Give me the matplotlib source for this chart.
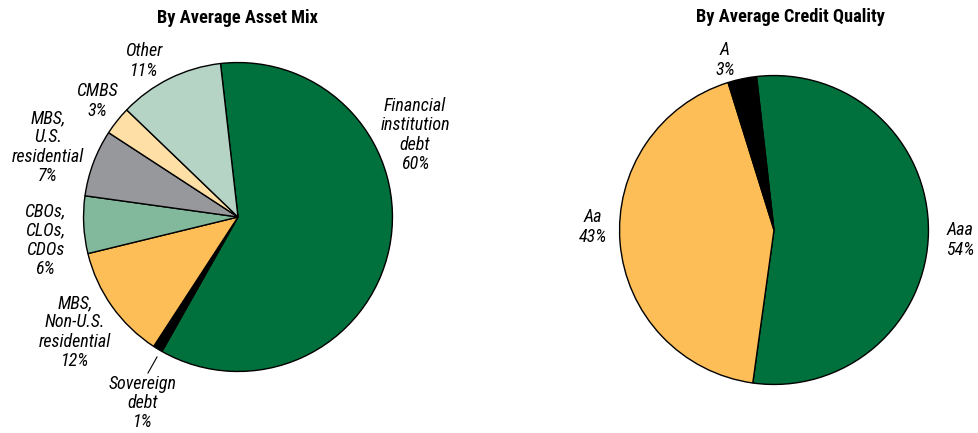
import matplotlib
matplotlib.use("Agg")
import matplotlib.pyplot as plt

plt.rcParams['font.family'] = ['Roboto Condensed', 'Liberation Sans', 'DejaVu Sans']

# 자산 구성 (시계 방향, 위쪽부터)
asset_labels = ["Financial\ninstitution\ndebt", "Sovereign\ndebt", "MBS,\nNon-U.S.\nresidential",
                "CBOs,\nCLOs,\nCDOs", "MBS,\nU.S.\nresidential", "CMBS", "Other"]
asset_values = [60, 1, 12, 6, 7, 3, 11]
asset_colors = ["#00703c", "#000000", "#fdbe57", "#82b99c", "#97989b", "#fedfa6", "#b5d4c6"]

# 신용등급 구성
credit_labels = ["Aaa", "Aa", "A"]
credit_values = [54, 43, 3]
credit_colors = ["#00703c", "#fdbe57", "#000000"]

W, H = 979, 433
fig = plt.figure(figsize=(W / 100, H / 100), dpi=100)


def add_pie(cx, cy, r, values, colors, title, title_xy):
    ax = fig.add_axes([(cx - r) / W, 1 - (cy + r) / H, 2 * r / W, 2 * r / H])
    ax.pie(values, colors=colors, startangle=96.5, counterclock=False,
           wedgeprops=dict(edgecolor="black", linewidth=1.0))
    ax.set_xlim(-1.01, 1.01)
    ax.set_ylim(-1.01, 1.01)
    ax.set_aspect("equal")
    ax.axis("off")
    fig.text(title_xy[0] / W, 1 - title_xy[1] / H, title, ha="center", va="center",
             fontsize=13.2, fontweight="bold")
    return ax


def label(px, py, name, value):
    fig.text(px / W, 1 - py / H, f"{name}\n{value}%", ha="center", va="center",
             fontsize=13, style="italic", linespacing=1.1, multialignment="center")


add_pie(238, 217, 156, asset_values, asset_colors, "By Average Asset Mix", (238, 18))
add_pie(774, 230, 156, credit_values, credit_colors, "By Average Credit Quality", (790, 17))

# 라벨 위치 (픽셀 좌표)
asset_pos = [(415, 135), (143, 403), (75, 332), (45, 240), (48, 147), (97, 101), (144, 61)]
for (px, py), name, v in zip(asset_pos, asset_labels, asset_values):
    label(px, py, name, v)

credit_pos = [(960, 240), (593, 227), (725, 60)]
for (px, py), name, v in zip(credit_pos, credit_labels, credit_values):
    label(px, py, name, v)

# 소버린 채권 지시선
fig.add_artist(plt.Line2D([157 / W, 148 / W], [1 - 357 / H, 1 - 373 / H],
                          color="black", linewidth=0.8))

fig.savefig("out.png", dpi=100, facecolor="white")
